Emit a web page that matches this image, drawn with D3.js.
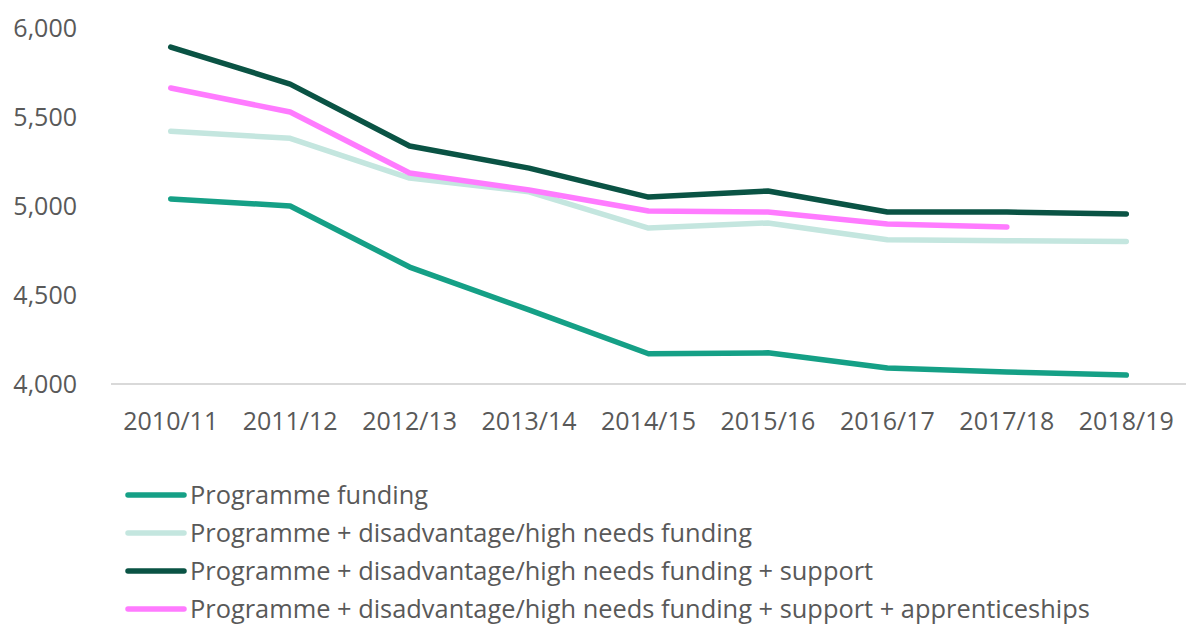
<!DOCTYPE html>
<html>
<head>
<meta charset="utf-8">
<script src="https://cdn.jsdelivr.net/npm/d3@7"></script>
<style>
  body { margin: 0; background: #fff; }
  text { font-family: "Open Sans", "Noto Sans", sans-serif; fill: #595959; }
</style>
</head>
<body>
<div id="chart"></div>
<script>
// data
var years = ["2010/11", "2011/12", "2012/13", "2013/14", "2014/15", "2015/16", "2016/17", "2017/18", "2018/19"];
var programme = [5040, 5000, 4657, 4416, 4170, 4175, 4090, 4067, 4050];
var disadvantage = [5420, 5380, 5157, 5080, 4876, 4905, 4810, 4805, 4800];
var support = [5893, 5685, 5337, 5213, 5050, 5084, 4966, 4966, 4955];
var apprenticeships = [5663, 5528, 5185, 5090, 4972, 4966, 4899, 4882];
var yTicks = [4000, 4500, 5000, 5500, 6000];

var seriesNames = [
  "Programme funding",
  "Programme + disadvantage/high needs funding",
  "Programme + disadvantage/high needs funding + support",
  "Programme + disadvantage/high needs funding + support + apprenticeships"
];
var seriesColors = ["#15a086", "#c4e6df", "#0a5344", "#ff7bff"];
var seriesValues = [programme, disadvantage, support, apprenticeships];
// draw order matches the picture: light, teal, pink, dark on top
var drawOrder = [1, 0, 3, 2];

var width = 1186, height = 626;
var margin = { top: 28, right: 0, bottom: 242, left: 111 };

var svg = d3.select("#chart")
  .append("svg")
  .attr("width", width)
  .attr("height", height);

var x = d3.scalePoint()
  .domain(years)
  .range([margin.left, width - margin.right])
  .padding(0.5);

var y = d3.scaleLinear()
  .domain([4000, 6000])
  .range([height - margin.bottom, margin.top]);

// bottom axis line
svg.append("line")
  .attr("x1", margin.left)
  .attr("x2", width)
  .attr("y1", y(4000))
  .attr("y2", y(4000))
  .attr("stroke", "#d9d9d9")
  .attr("stroke-width", 2);

// y labels
svg.append("g")
  .selectAll("text")
  .data(yTicks)
  .enter()
  .append("text")
  .attr("x", 77)
  .attr("y", function (d) { return y(d); })
  .attr("dy", "0.35em")
  .attr("text-anchor", "end")
  .style("font-size", "25px")
  .text(d3.format(","));

// x labels
svg.append("g")
  .selectAll("text")
  .data(years)
  .enter()
  .append("text")
  .attr("x", function (d) { return x(d); })
  .attr("y", y(4000) + 46)
  .attr("text-anchor", "middle")
  .style("font-size", "25px")
  .text(function (d) { return d; });

var line = d3.line()
  .x(function (d, i) { return x(years[i]); })
  .y(function (d) { return y(d); });

drawOrder.forEach(function (k) {
  svg.append("path")
    .datum(seriesValues[k])
    .attr("d", line)
    .attr("fill", "none")
    .attr("stroke", seriesColors[k])
    .attr("stroke-width", 5.5)
    .attr("stroke-linecap", "round")
    .attr("stroke-linejoin", "round");
});

// legend
var legend = svg.append("g")
  .attr("transform", "translate(128, 495)");

var rows = legend.selectAll("g")
  .data(seriesNames)
  .enter()
  .append("g")
  .attr("transform", function (d, i) { return "translate(0," + (i * 38) + ")"; });

rows.append("line")
  .attr("x1", 0)
  .attr("x2", 56)
  .attr("stroke", function (d, i) { return seriesColors[i]; })
  .attr("stroke-width", 5.5)
  .attr("stroke-linecap", "round");

rows.append("text")
  .attr("x", 62)
  .attr("dy", "0.35em")
  .style("font-size", "25.4px")
  .text(function (d) { return d; });
</script>
</body>
</html>
